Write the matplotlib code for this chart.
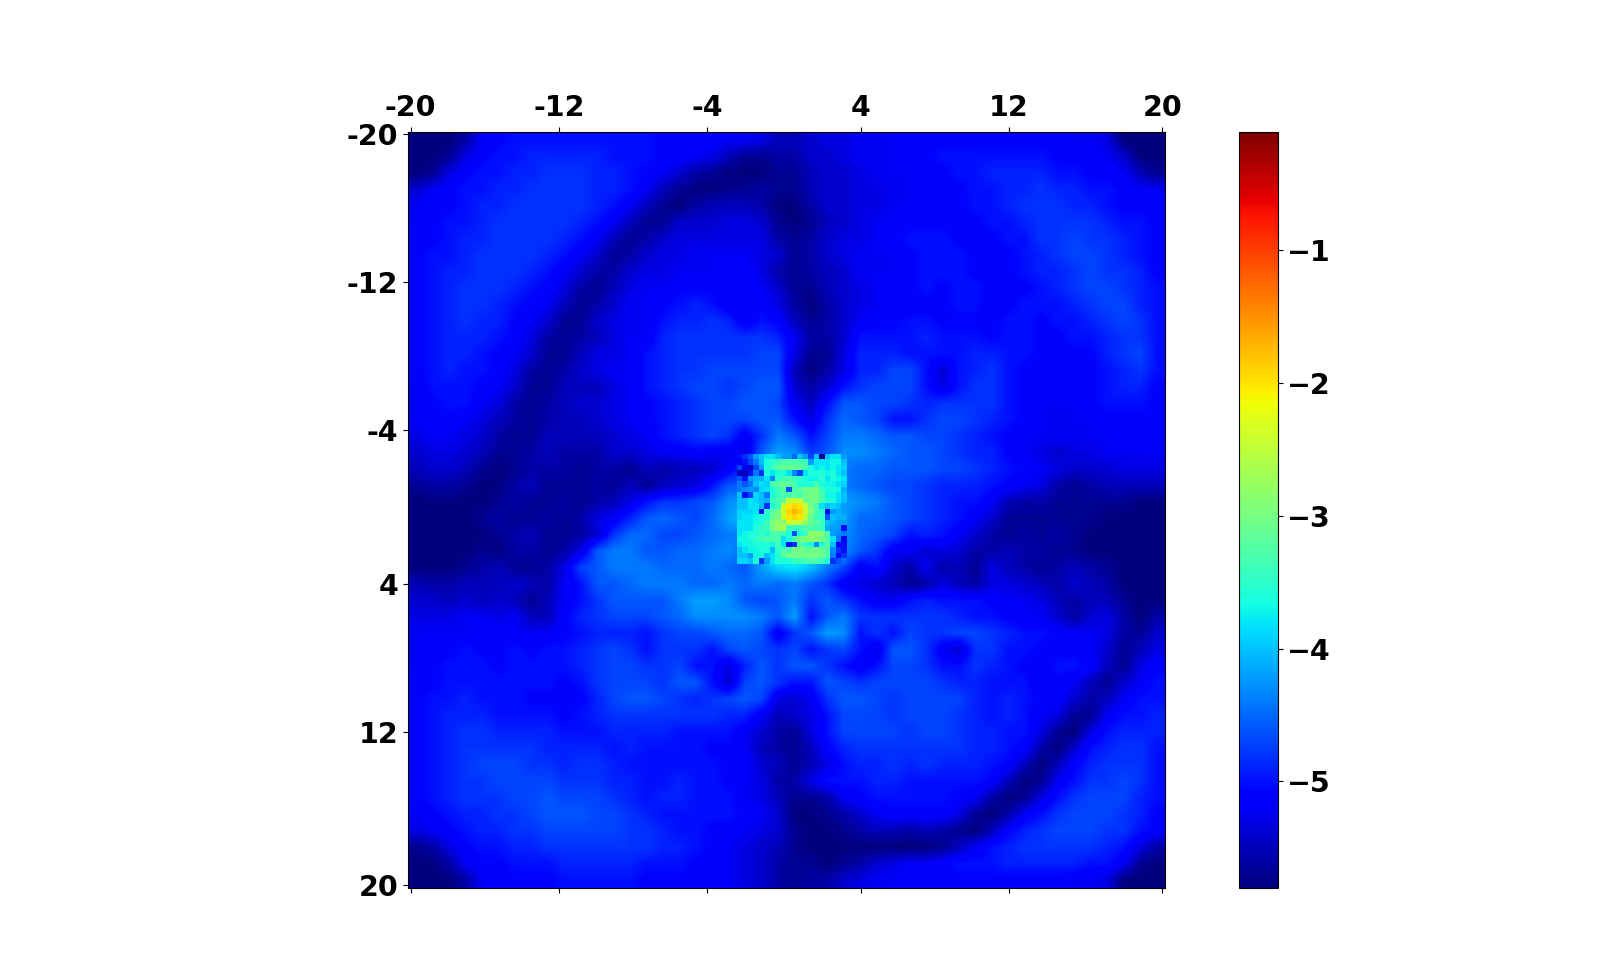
import matplotlib
matplotlib.use("Agg")
import matplotlib.pyplot as plt
import numpy as np

# log10 intensity, as minus ten times the value (58 = -5.8)
# one entry per 3 image pixels
coarse_rows = [
[58,58,58,56,52,51,50,50,50,50,50,50,50,50,50,51,51,51,51,52,52,53,55,55,54,53,53,52,52,52,51,51,51,51,51,51,51,51,51,51,52,52,53,58,58,58],
[58,58,57,53,51,50,50,49,49,49,49,49,50,50,50,51,51,52,53,55,57,57,56,56,54,54,53,52,52,52,51,51,50,50,50,50,50,50,50,51,51,51,52,54,58,58],
[58,57,53,51,50,50,49,49,48,48,48,49,49,50,51,52,54,56,57,58,58,58,57,57,55,54,54,53,52,52,52,51,51,50,50,49,49,49,49,50,50,51,51,52,55,57],
[54,52,51,50,50,49,49,48,48,48,48,49,49,50,52,55,57,58,58,57,57,56,57,57,55,54,54,53,53,52,52,52,51,51,50,50,49,49,48,49,49,50,50,51,52,52],
[52,51,51,50,49,49,48,48,48,48,48,49,50,52,55,57,58,56,55,55,55,56,58,58,56,54,54,53,53,52,52,51,51,51,50,50,49,48,48,48,49,49,50,51,51,51],
[52,51,50,50,49,48,48,48,48,48,49,50,52,55,57,57,54,54,54,53,53,54,57,58,57,55,54,53,52,52,51,51,51,51,51,50,50,49,48,48,48,48,49,50,50,51],
[51,51,50,49,49,48,48,48,48,49,50,52,55,57,56,54,53,53,53,53,53,53,56,57,56,54,53,53,52,51,50,50,50,51,51,51,50,50,48,48,47,48,48,49,50,51],
[51,50,50,49,48,48,48,48,49,50,52,54,57,56,54,53,53,52,52,52,52,53,54,57,56,54,53,52,52,52,51,50,50,50,51,51,51,50,49,48,47,47,48,49,50,51],
[51,50,49,49,48,48,48,49,50,52,54,56,56,54,53,53,52,52,52,51,51,53,56,57,56,55,54,52,52,52,51,50,50,50,51,51,51,50,49,49,48,47,48,48,49,51],
[51,50,49,48,48,48,49,50,51,53,56,57,55,53,52,52,51,51,51,51,51,52,54,57,57,55,54,53,52,51,51,50,51,50,50,51,51,51,50,49,48,47,47,48,49,50],
[51,50,49,48,48,49,50,51,52,55,57,56,54,52,52,51,50,49,50,52,52,51,53,56,58,56,54,53,52,52,52,51,51,50,50,52,51,50,50,50,49,48,47,47,49,50],
[51,50,49,48,49,49,51,52,54,57,57,54,53,52,52,50,49,49,48,49,52,50,51,55,57,56,54,52,51,51,50,50,51,51,51,51,50,50,51,50,50,49,48,47,48,50],
[51,50,49,49,49,50,51,53,56,57,56,55,53,52,52,49,48,48,48,48,48,48,49,52,56,56,54,50,50,50,50,49,50,50,50,51,50,50,51,51,50,50,49,48,48,50],
[51,50,49,49,50,51,52,54,57,57,55,53,53,52,50,49,48,48,48,48,48,47,47,53,57,57,53,49,49,49,50,50,50,50,49,49,50,50,51,51,51,51,49,48,47,50],
[51,50,49,50,50,51,53,56,57,56,54,53,52,52,50,49,48,48,47,47,47,47,47,55,58,56,53,49,49,47,47,50,54,50,49,48,50,51,52,51,51,51,50,49,48,50],
[52,50,50,50,51,52,54,57,57,55,55,55,53,52,50,49,48,47,47,48,47,46,46,54,56,54,50,48,47,47,47,50,53,50,48,48,50,51,52,51,51,51,50,49,49,51],
[52,51,50,50,52,53,56,57,56,55,54,54,53,52,51,50,49,48,47,47,46,46,47,52,55,50,46,46,47,47,48,49,48,48,48,48,50,51,52,52,52,51,50,50,50,51],
[52,51,51,52,53,55,56,57,56,55,55,54,53,52,51,50,49,48,47,47,47,46,46,50,53,48,45,46,47,50,50,48,47,47,48,49,50,51,52,52,52,52,51,51,51,51],
[53,52,52,53,54,56,57,57,55,55,55,55,54,53,52,50,49,48,47,48,52,48,44,46,50,47,44,44,45,46,46,47,47,48,49,50,51,52,52,52,52,52,52,51,51,52],
[54,53,53,54,55,57,57,56,55,56,56,56,54,54,53,52,52,51,52,52,53,46,42,43,48,46,43,43,44,45,46,46,47,48,49,49,51,52,53,54,53,53,52,52,52,52],
[55,54,54,55,57,58,57,56,56,56,57,56,56,57,55,56,55,55,54,52,47,43,39,36,42,44,44,45,45,46,46,46,47,47,48,49,50,51,52,53,54,54,54,53,53,53],
[57,56,56,57,58,58,56,55,57,57,57,56,57,55,57,55,54,53,50,46,46,41,36,33,38,42,44,45,46,47,47,48,49,49,49,50,51,52,53,56,57,56,55,55,55,55],
[58,58,58,58,58,57,56,57,57,56,57,56,55,53,50,48,48,47,46,43,42,40,28,24,33,39,42,43,44,46,47,48,49,50,50,52,55,56,56,57,57,57,57,57,58,58],
[58,58,58,58,57,56,57,57,56,57,56,53,52,49,46,45,46,47,45,42,40,39,28,24,33,39,42,45,45,46,47,48,49,50,52,54,57,57,57,57,57,57,58,58,58,58],
[58,58,58,58,58,57,56,55,57,57,56,54,48,45,45,47,47,46,45,44,44,42,36,33,38,41,43,45,46,47,50,49,50,52,54,56,57,56,57,56,57,58,58,58,58,58],
[58,58,58,58,57,58,56,56,57,56,53,46,44,44,46,46,45,45,44,43,45,40,35,36,37,42,43,46,48,52,52,54,53,54,56,56,55,56,56,57,57,58,58,58,58,58],
[58,58,58,57,56,55,57,57,56,53,47,46,44,44,44,45,45,45,44,45,46,42,39,38,40,44,47,52,50,54,56,52,56,55,57,53,55,56,57,56,55,56,57,58,58,58],
[55,56,56,55,55,55,54,55,56,52,50,46,46,45,44,44,44,45,45,44,45,44,45,44,46,48,52,53,54,55,57,56,53,55,56,53,53,54,55,56,54,55,56,58,58,58],
[54,54,55,54,55,54,55,57,55,52,50,48,46,46,46,46,44,42,42,43,46,47,46,44,48,46,48,50,52,52,50,49,50,50,50,51,52,52,53,55,56,55,55,57,58,58],
[53,53,53,52,52,53,52,55,55,51,49,48,47,47,47,46,45,43,43,43,43,44,46,42,50,46,44,48,48,48,48,48,48,49,50,50,51,52,52,54,56,54,53,56,58,56],
[52,52,52,52,51,51,52,52,52,51,50,49,49,49,50,48,47,47,46,45,45,46,52,48,46,42,43,50,48,50,47,48,48,47,47,48,49,50,50,51,52,52,53,56,57,54],
[52,51,51,50,51,51,50,51,50,50,49,48,47,48,50,48,48,48,50,47,46,47,48,47,50,48,47,50,53,46,46,48,52,54,48,48,50,50,51,51,51,52,54,57,55,53],
[52,51,50,50,50,51,50,50,50,50,49,48,47,47,48,48,47,50,50,53,49,46,48,46,46,48,50,52,50,47,47,48,50,50,48,49,50,51,52,50,50,51,55,57,53,51],
[51,51,50,50,50,50,50,50,50,51,50,48,47,47,47,48,46,46,50,54,47,46,48,50,50,46,47,48,47,47,47,47,48,49,49,50,50,50,52,51,52,55,57,54,52,50],
[51,50,50,49,50,50,50,51,51,51,51,49,47,46,46,47,48,49,48,47,46,47,53,54,52,48,46,46,47,48,47,47,47,47,49,50,49,50,51,51,54,56,55,52,50,50],
[51,50,49,49,49,50,50,50,50,51,50,49,48,48,48,48,48,48,48,49,49,52,55,54,53,50,47,47,47,48,47,47,47,48,49,50,49,50,52,53,57,57,52,50,50,49],
[51,50,49,48,48,49,49,49,49,50,50,50,49,49,49,49,50,50,50,50,52,54,56,57,53,50,47,47,47,47,48,47,47,48,49,49,50,50,53,57,58,53,50,49,49,49],
[51,50,49,48,48,48,48,48,49,49,49,49,50,49,50,50,50,50,51,51,52,55,56,57,55,51,49,48,48,48,48,48,48,48,49,49,50,51,56,58,54,50,49,48,48,50],
[51,50,49,48,47,47,47,48,48,49,48,48,49,50,50,50,50,50,50,51,51,54,55,57,55,53,50,49,49,48,49,48,49,49,49,50,51,55,58,55,51,49,48,48,48,50],
[51,50,49,48,48,47,47,47,47,48,48,48,49,49,50,50,49,50,50,51,52,53,56,56,53,50,50,50,49,49,50,50,50,50,50,51,55,58,57,52,50,48,48,47,48,50],
[51,50,49,48,48,48,47,47,46,47,47,47,48,49,50,49,49,50,50,50,52,53,55,57,57,56,52,51,50,50,50,50,50,51,52,56,58,57,53,50,48,47,47,47,49,50],
[52,51,50,49,49,48,48,47,46,46,46,47,47,48,49,50,50,50,50,50,51,52,54,58,58,57,56,54,52,51,51,51,51,53,57,58,56,52,50,48,47,47,47,48,49,51],
[53,52,51,50,49,49,48,48,47,47,47,47,47,48,48,49,50,50,51,51,52,53,54,57,58,58,57,56,55,55,56,55,56,57,58,55,51,49,48,47,47,47,48,48,50,51],
[57,56,53,51,50,50,49,49,48,48,48,48,48,48,48,49,49,50,51,52,53,54,55,57,58,58,58,58,58,58,58,58,57,55,52,50,49,48,48,48,48,48,49,50,53,56],
[58,58,56,52,51,51,50,50,50,49,49,49,49,49,50,50,50,51,51,52,53,54,56,57,57,58,57,56,54,53,52,52,51,50,50,50,49,49,49,49,49,50,50,52,57,58],
[58,58,58,56,52,51,51,51,51,50,50,50,50,50,51,51,51,51,51,52,53,54,56,57,56,56,54,53,52,52,51,51,51,51,51,51,51,51,51,51,52,52,53,58,58,58],
]

# same units, one entry per image pixel, around the peak
core_rows = [
[50,48,46,42,40,38,38,40,42,42,45,40,42,47,40,57,40,38,38,42],
[52,50,47,44,40,36,35,34,33,33,33,33,34,42,38,38,38,37,37,40],
[47,52,54,47,42,36,34,32,31,31,31,32,33,36,38,37,38,37,38,39],
[55,55,50,44,48,36,38,36,36,38,43,47,38,36,36,36,37,36,38,40],
[46,50,42,41,41,38,43,35,34,33,34,35,36,37,37,35,38,36,37,38],
[44,46,44,40,38,39,33,32,31,32,33,36,36,36,33,36,37,37,38,39],
[44,43,42,43,39,38,36,34,32,46,33,32,30,30,30,34,36,36,37,41],
[40,50,47,39,40,44,36,34,33,33,32,33,31,30,30,33,37,37,38,40],
[40,40,38,39,40,41,34,33,32,25,24,25,31,31,30,33,36,36,38,40],
[40,40,38,38,40,48,36,34,24,20,19,20,25,30,33,38,40,39,40,42],
[39,39,39,38,50,35,32,30,24,19,17,19,24,29,33,35,52,42,41,42],
[39,38,38,37,36,36,31,30,24,20,19,20,25,31,34,35,46,40,41,41],
[38,38,38,37,36,34,29,28,29,24,24,25,28,31,32,34,40,41,42,42],
[38,38,38,36,35,34,30,28,26,34,34,34,33,33,34,34,41,42,42,50],
[38,37,36,36,34,36,33,33,34,36,46,36,34,28,28,29,33,42,43,44],
[37,37,36,35,34,33,33,33,38,36,33,30,29,29,29,30,33,38,44,52],
[38,37,37,36,36,36,37,34,38,50,48,33,35,36,43,36,32,40,52,50],
[40,38,37,37,36,36,40,35,33,33,30,30,31,31,30,31,33,43,48,50],
[40,40,42,37,36,40,38,36,32,30,30,30,30,30,30,31,33,44,50,48],
[39,39,40,36,48,42,38,36,36,36,34,34,33,33,33,34,36,48,46,45],
]

tick_index = [0, 27, 54, 82, 109, 137]
tick_labels = ["-20", "-12", "-4", "4", "12", "20"]
cbar_ticks = [-5, -4, -3, -2, -1]
VMIN = -5.8
VMAX = -0.11
N = 138

for name, rows in (("coarse", coarse_rows), ("core", core_rows)):
    bad = [(i, len(r)) for i, r in enumerate(rows) if len(r) != len(rows[0])]
    if bad:
        raise ValueError(f"{name}: {bad}")

plt.rcParams["font.family"] = "DejaVu Sans"
plt.rcParams["font.weight"] = "bold"
plt.rcParams["font.size"] = 20.5

W, H = 1607, 976
fig = plt.figure(figsize=(W / 100, H / 100), dpi=100)
ax = fig.add_axes([408 / W, (H - 887.7) / H, 757 / W, 756 / H])

coarse = -np.array(coarse_rows) / 10
core = -np.array(core_rows) / 10

im = ax.imshow(coarse, cmap="jet", vmin=VMIN, vmax=VMAX, interpolation="bilinear",
               extent=(-0.5, N - 0.5, N - 0.5, -0.5))
ax.imshow(core, cmap="jet", vmin=VMIN, vmax=VMAX, interpolation="nearest",
          extent=(59.5, 79.5, 78.5, 58.5))
ax.set_xlim(-0.5, N - 0.5)
ax.set_ylim(N - 0.5, -0.5)
ax.set_aspect("auto")

ax.set_xticks(tick_index)
ax.set_xticklabels(tick_labels)
ax.set_yticks(tick_index)
ax.set_yticklabels(tick_labels)
ax.tick_params(top=True, labeltop=True, bottom=True, labelbottom=False, left=True, right=False)

cax = fig.add_axes([1239.3 / W, (H - 887.7) / H, 38.4 / W, 756 / H])
cb = fig.colorbar(im, cax=cax)
cb.set_ticks(cbar_ticks)

fig.savefig("out.png", dpi=100)
